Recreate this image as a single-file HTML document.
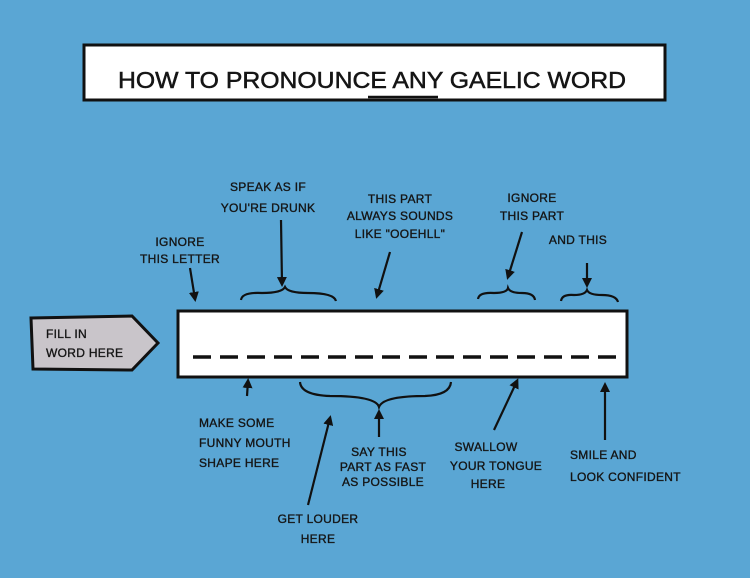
<!DOCTYPE html>
<html><head><meta charset="utf-8"><style>
html,body{margin:0;padding:0;background:#5aa6d4;}
svg{display:block}
text{font-family:"Liberation Sans",sans-serif;fill:#151515;}
.t{font-size:12px;letter-spacing:0.3px;stroke:#151515;stroke-width:0.35px}
</style></head><body>
<svg width="750" height="578" viewBox="0 0 750 578" xmlns="http://www.w3.org/2000/svg">
<defs><marker id="a" markerWidth="10" markerHeight="10" refX="7" refY="5" orient="auto" markerUnits="userSpaceOnUse"><path d="M0,0 L10,5 L0,10 Z" fill="#111"/></marker></defs>
<rect width="750" height="578" fill="#5aa6d4"/>
<rect x="84" y="45" width="581" height="55" fill="#fff" stroke="#111" stroke-width="3"/>
<text x="118" y="88" font-size="23" textLength="508" lengthAdjust="spacingAndGlyphs" stroke="#151515" stroke-width="0.5">HOW TO PRONOUNCE ANY GAELIC WORD</text>
<line x1="368" y1="97" x2="438" y2="97" stroke="#111" stroke-width="2.5"/>

<path d="M31,318 L132,316 L158,343 L132,370 L33,369 Z" fill="#c9c5ca" stroke="#111" stroke-width="3"/>
<text class="t" x="46" y="338">FILL IN</text>
<text class="t" x="46" y="357">WORD HERE</text>

<rect x="178" y="311" width="449" height="66" fill="#fff" stroke="#111" stroke-width="3"/>
<line x1="193" y1="357" x2="616" y2="357" stroke="#111" stroke-width="3.5" stroke-dasharray="18,9"/>

<g stroke="#111" stroke-width="2.2" fill="none">
<path d="M241,300 Q242,292 262,293 Q282,293 285,287 Q288,293 308,293 Q334,293 336,301"/>
<path d="M478,299 Q479,292 494,293 Q507,293 508,288 Q510,293 522,293 Q534,293 535,300"/>
<path d="M561,301 Q562,294 574,295 Q585,295 587,290 Q589,295 602,295 Q616,295 618,302"/>
<path d="M300,382 Q301,395 330,396 Q376,396 379,407 Q383,396 425,396 Q450,395 451,382"/>
<line x1="190" y1="268" x2="195" y2="299" marker-end="url(#a)"/>
<line x1="281" y1="220" x2="282" y2="284" marker-end="url(#a)"/>
<line x1="390" y1="252" x2="377" y2="296" marker-end="url(#a)"/>
<line x1="522" y1="232" x2="508" y2="277" marker-end="url(#a)"/>
<line x1="587" y1="263" x2="587" y2="285" marker-end="url(#a)"/>
<line x1="247" y1="396" x2="248" y2="381" marker-end="url(#a)"/>
<line x1="379" y1="437" x2="379" y2="412" marker-end="url(#a)"/>
<line x1="308" y1="505" x2="330" y2="418" marker-end="url(#a)"/>
<line x1="494" y1="430" x2="517" y2="381" marker-end="url(#a)"/>
<line x1="605" y1="440" x2="605" y2="385" marker-end="url(#a)"/>
</g>

<g class="t" text-anchor="middle">
<text x="180" y="246">IGNORE</text>
<text x="180" y="263">THIS LETTER</text>
<text x="268" y="191">SPEAK AS IF</text>
<text x="268" y="212">YOU'RE DRUNK</text>
<text x="400" y="203">THIS PART</text>
<text x="400" y="220">ALWAYS SOUNDS</text>
<text x="400" y="238">LIKE "OOEHLL"</text>
<text x="532" y="202">IGNORE</text>
<text x="532" y="220">THIS PART</text>
<text x="578" y="244">AND THIS</text>
<text x="379" y="456">SAY THIS</text>
<text x="383" y="471">PART AS FAST</text>
<text x="383" y="486">AS POSSIBLE</text>
<text x="318" y="523">GET LOUDER</text>
<text x="318" y="543">HERE</text>
<text x="486" y="451">SWALLOW</text>
<text x="496" y="470">YOUR TONGUE</text>
<text x="488" y="488">HERE</text>
</g>
<g class="t">
<text x="199" y="427">MAKE SOME</text>
<text x="199" y="447">FUNNY MOUTH</text>
<text x="199" y="467">SHAPE HERE</text>
<text x="570" y="459">SMILE AND</text>
<text x="570" y="481">LOOK CONFIDENT</text>
</g>
</svg>
</body></html>
